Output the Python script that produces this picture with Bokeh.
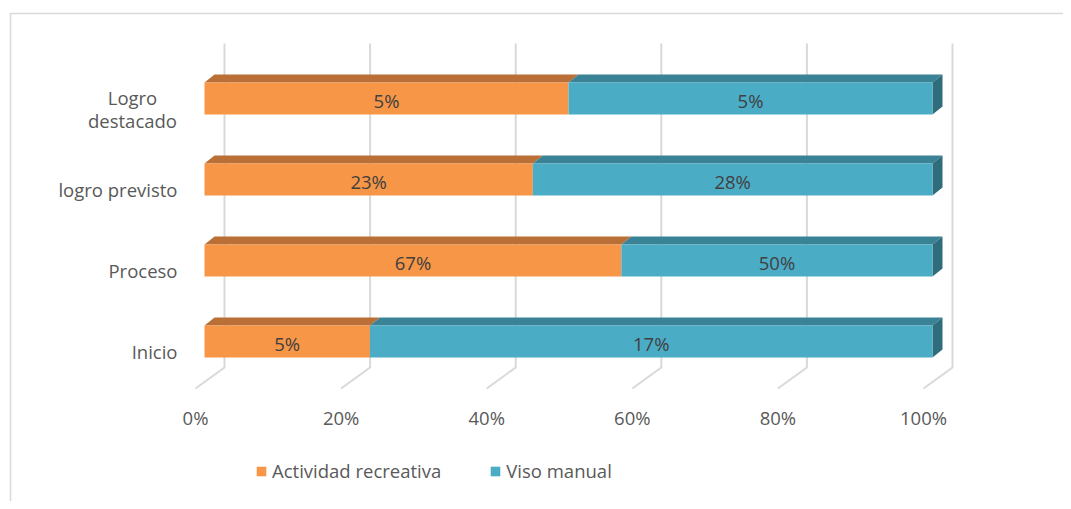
from bokeh.plotting import figure
from bokeh.models import Range1d, Legend, LegendItem, ColumnDataSource
from bokeh.core.properties import value
from bokeh.embed import file_html
from bokeh.resources import INLINE

# ---------------- data ----------------
categories = ["Inicio", "Proceso", "logro previsto", "Logro\ndestacado"]
actividad = [5, 67, 23, 5]        # Actividad recreativa (%)
viso = [17, 50, 28, 5]            # Viso manual (%)
series_names = ["Actividad recreativa", "Viso manual"]
tick_values = [0, 20, 40, 60, 80, 100]
tick_labels = ["0%", "20%", "40%", "60%", "80%", "100%"]

# ---------------- geometry / style ----------------
W, H = 1063, 501
X0, XS = 204.0, 7.28      # canvas px of 0 %, px per %
Y0, YS = 341.0, 81.0      # canvas px of first category, px per category


def xd(px):
    return (px - X0) / XS


def yd(py):
    return (Y0 - py) / YS


BAR_H = 32 / YS
DX, DY = 10 / XS, 8 / YS
FONT = value("Open Sans")
FS = "18.5px"
GRAY = "#595959"
GRID = "#D9D9D9"
OR_F, OR_T = "#F79646", "#B96F36"
BL_F, BL_T, BL_S = "#4BACC6", "#3A8397", "#2F6C7C"

p = figure(width=W, height=H, output_backend="svg", toolbar_location=None,
           x_range=Range1d(xd(0), xd(W)), y_range=Range1d(yd(H), yd(0)),
           x_axis_location=None, y_axis_location=None, min_border=0,
           outline_line_color=None, background_fill_color="white")
p.xgrid.visible = False
p.ygrid.visible = False

# outer chart border (left and top edges visible)
p.line([xd(10), xd(10), xd(W)], [yd(H), yd(13), yd(13)], line_color=GRID, line_width=1.5)

# 3D wall gridlines and floor lines
back_top, back_bot, front_bot = yd(43), yd(367), yd(388)
gx, gy = [], []
for t in tick_values:
    gx.append([t + 20 / XS, t + 20 / XS, t - 9 / XS])
    gy.append([back_top, back_bot, front_bot])
p.multi_line(gx, gy, line_color=GRID, line_width=2)

# bars
n = len(categories)
ys = list(range(n))
share_a = [a / (a + b) * 100 for a, b in zip(actividad, viso)]
left_a = [0] * n
right_a = share_a
left_b = share_a
right_b = [100] * n
tops = [y + BAR_H / 2 for y in ys]
bots = [y - BAR_H / 2 for y in ys]


def top_faces(lefts, rights):
    xs_, ys_ = [], []
    for l, r, t in zip(lefts, rights, tops):
        xs_.append([l, r, r + DX, l + DX])
        ys_.append([t, t, t + DY, t + DY])
    return xs_, ys_


tx, ty = top_faces(left_a, right_a)
p.patches(tx, ty, fill_color=OR_T, line_color=None)
tx, ty = top_faces(left_b, right_b)
p.patches(tx, ty, fill_color=BL_T, line_color=None)

sx, sy = [], []
for r, t, b in zip(right_b, tops, bots):
    sx.append([r, r, r + DX, r + DX])
    sy.append([b, t, t + DY, b + DY])
p.patches(sx, sy, fill_color=BL_S, line_color=None)

ra = p.quad(left=left_a, right=right_a, bottom=bots, top=tops,
            fill_color=OR_F, line_color=None)
rb = p.quad(left=left_b, right=right_b, bottom=bots, top=tops,
            fill_color=BL_F, line_color=None)

# data labels
lab_src = ColumnDataSource(dict(
    x=[(l + r) / 2 for l, r in zip(left_a, right_a)] + [(l + r) / 2 for l, r in zip(left_b, right_b)],
    y=[y - 2 / YS for y in ys] * 2,
    t=[f"{v}%" for v in actividad] + [f"{v}%" for v in viso],
))
p.text(x="x", y="y", text="t", source=lab_src, text_font=FONT, text_font_size=FS,
       text_color="#404040", text_align="center", text_baseline="middle")

# category labels: single-line ones right aligned, wrapped ones centred
single = [(y, c) for y, c in zip(ys, categories) if "\n" not in c]
multi = [(y, c) for y, c in zip(ys, categories) if "\n" in c]
cat_src = ColumnDataSource(dict(x=[xd(177)] * len(single),
                                y=[y - 10 / YS for y, _ in single], t=[c for _, c in single]))
p.text(x="x", y="y", text="t", source=cat_src, text_font=FONT, text_font_size=FS,
       text_color=GRAY, text_align="right", text_baseline="middle")
cat2_src = ColumnDataSource(dict(x=[xd(132)] * len(multi),
                                 y=[y - 10 / YS for y, _ in multi], t=[c for _, c in multi]))
p.text(x="x", y="y", text="t", source=cat2_src, text_font=FONT, text_font_size=FS,
       text_color=GRAY, text_align="center", text_baseline="middle", text_line_height=0.92)

# x tick labels
tick_src = ColumnDataSource(dict(x=[t - 9 / XS for t in tick_values], y=[yd(417)] * len(tick_values), t=tick_labels))
p.text(x="x", y="y", text="t", source=tick_src, text_font=FONT, text_font_size=FS,
       text_color=GRAY, text_align="center", text_baseline="middle")

legend = Legend(items=[LegendItem(label=series_names[0], renderers=[ra]),
                       LegendItem(label=series_names[1], renderers=[rb])],
                orientation="horizontal", location=(255, 18),
                border_line_color=None, background_fill_alpha=0,
                padding=0, margin=0, spacing=48, glyph_width=12, glyph_height=12,
                label_standoff=5, label_text_font="Open Sans", label_text_font_size=FS,
                label_text_color=GRAY)
p.add_layout(legend)

open("out.html", "w").write(file_html(p, INLINE))
